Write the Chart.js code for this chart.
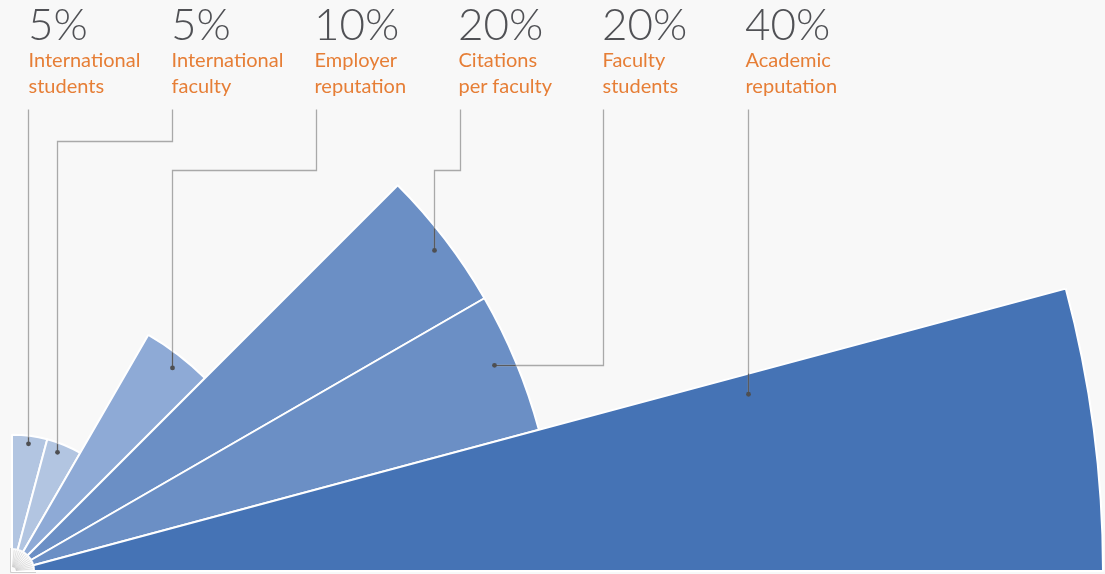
<!DOCTYPE html>
<html><head><meta charset="utf-8">
<script src="https://cdn.jsdelivr.net/npm/chart.js@4"></script>
<style>
html,body{margin:0;padding:0;background:#f8f8f8;overflow:hidden;}
#wrap{position:relative;width:1105px;height:574px;background:#f8f8f8;}
#c{position:absolute;left:0;top:0;}
.lab{position:absolute;font-family:Lato,'Open Sans',sans-serif;white-space:nowrap;}
.pct{font-size:44px;font-weight:300;line-height:44px;color:#505155;}
.txt{font-size:20px;font-weight:400;line-height:26px;color:#e67e36;}
</style></head><body>
<div id="wrap"><canvas id="c" width="1105" height="574"></canvas><div id="labels"></div></div>
<script>
// ---- data ----
const categories = ['International students','International faculty','Employer reputation','Citations per faculty','Faculty students','Academic reputation'];
const labelLines = [['International','students'],['International','faculty'],['Employer','reputation'],['Citations','per faculty'],['Faculty','students'],['Academic','reputation']];
const weights = [5, 5, 10, 20, 20, 40];
const pctLabels = ['5%', '5%', '10%', '20%', '20%', '40%'];

// ---- styling / layout ----
const sliceColors = ['#b2c5e1', '#b2c5e1', '#8eaad6', '#6b8fc5', '#6b8fc5', '#4573b5'];
const CENTER = {x: 12, y: 571};
const RADIUS_MAX = 1091;
const SCALE_MAX = 40;
const SLICE_ANGLE = 15;
const TOP_Y = 109;
const colX = [28, 172, 316, 460, 603, 748];
const textX = [28, 171, 314, 458, 602, 745];
// anchor inside each slice: angle fraction, radius fraction, elbow y (null = horizontal at dot level)
const leaders = [
  {af: 0.48, rf: 0.94, ey: null},
  {af: 0.38, rf: 0.93, ey: 141},
  {af: 0.55, rf: 0.948, ey: 170},
  {af: 0.52, rf: 0.972, ey: 170},
  {af: 0.46, rf: 0.961, ey: null},
  {af: 0.10, rf: 0.694, ey: null}
];

// text labels
const labelsEl = document.getElementById('labels');
categories.forEach((c, i) => {
  const p = document.createElement('div');
  p.className = 'lab pct'; p.style.left = textX[i] + 'px'; p.style.top = '0.5px';
  p.textContent = pctLabels[i];
  labelsEl.appendChild(p);
  const t = document.createElement('div');
  t.className = 'lab txt'; t.style.left = (textX[i] + 0.5) + 'px'; t.style.top = '46px';
  t.innerHTML = labelLines[i].join('<br>');
  labelsEl.appendChild(t);
});

const leaderPlugin = {
  id: 'leaders',
  afterDatasetsDraw(chart) {
    const ctx = chart.ctx;
    const meta = chart.getDatasetMeta(0);
    // center fan decoration
    ctx.save();
    ctx.beginPath();
    ctx.moveTo(CENTER.x, CENTER.y);
    ctx.arc(CENTER.x, CENTER.y, 23, -Math.PI / 2, 0);
    ctx.closePath();
    ctx.fillStyle = '#fbfbfb';
    ctx.fill();
    ctx.strokeStyle = 'rgba(120,120,120,0.35)';
    ctx.lineWidth = 0.6;
    for (let k = 1; k < 15; k++) {
      const a = -Math.PI / 2 + k * Math.PI / 30;
      ctx.beginPath();
      ctx.moveTo(CENTER.x + 4 * Math.cos(a), CENTER.y + 4 * Math.sin(a));
      ctx.lineTo(CENTER.x + 21 * Math.cos(a), CENTER.y + 21 * Math.sin(a));
      ctx.stroke();
    }
    ctx.strokeStyle = '#cfcfcf';
    ctx.lineWidth = 1;
    ctx.beginPath();
    ctx.moveTo(10.5, 548); ctx.lineTo(10.5, 572.5); ctx.lineTo(36, 572.5);
    ctx.stroke();
    ctx.restore();

    meta.data.forEach((arc, i) => {
      const p = arc.getProps(['x', 'y', 'startAngle', 'endAngle', 'outerRadius'], true);
      const L = leaders[i];
      const a = p.startAngle + L.af * (p.endAngle - p.startAngle);
      const r = p.outerRadius * L.rf;
      const dx = p.x + r * Math.cos(a), dy = p.y + r * Math.sin(a);
      const ey = L.ey === null ? dy : L.ey;
      const pts = [[dx, dy], [dx, ey], [colX[i], ey], [colX[i], TOP_Y]];
      const path = () => {
        ctx.beginPath();
        ctx.moveTo(Math.round(pts[0][0]) + 0.5, pts[0][1]);
        for (let k = 1; k < pts.length; k++) {
          const xx = Math.round(pts[k][0]) + 0.5, yy = Math.round(pts[k][1]) + 0.5;
          ctx.lineTo(xx, yy);
        }
      };
      ctx.save();
      ctx.strokeStyle = '#a9a9a9';
      ctx.lineWidth = 1.3;
      path(); ctx.stroke();
      ctx.restore();
      ctx.save();
      ctx.beginPath();
      ctx.moveTo(p.x, p.y);
      ctx.arc(p.x, p.y, p.outerRadius - 1.5, p.startAngle, p.endAngle);
      ctx.closePath();
      ctx.clip();
      ctx.strokeStyle = '#5a5b5e';
      ctx.lineWidth = 1.2;
      path(); ctx.stroke();
      ctx.restore();
      ctx.save();
      ctx.fillStyle = '#4e4f52';
      ctx.beginPath();
      ctx.arc(Math.round(dx) + 0.5, dy, 2.4, 0, Math.PI * 2);
      ctx.fill();
      ctx.restore();
    });
  }
};

new Chart(document.getElementById('c').getContext('2d'), {
  type: 'polarArea',
  data: {
    labels: categories,
    datasets: [{
      data: weights,
      backgroundColor: sliceColors,
      borderColor: '#ffffff',
      borderWidth: 2,
      angle: SLICE_ANGLE
    }]
  },
  options: {
    responsive: false,
    animation: false,
    layout: {padding: 0},
    plugins: {legend: {display: false}, tooltip: {enabled: false}},
    scales: {
      r: {
        min: 0, max: SCALE_MAX, startAngle: 0,
        ticks: {display: false},
        grid: {display: false},
        angleLines: {display: false},
        pointLabels: {display: false},
        afterFit: (s) => { s.xCenter = CENTER.x; s.yCenter = CENTER.y; s.drawingArea = RADIUS_MAX; }
      }
    }
  },
  plugins: [leaderPlugin]
});
</script>
</body></html>
